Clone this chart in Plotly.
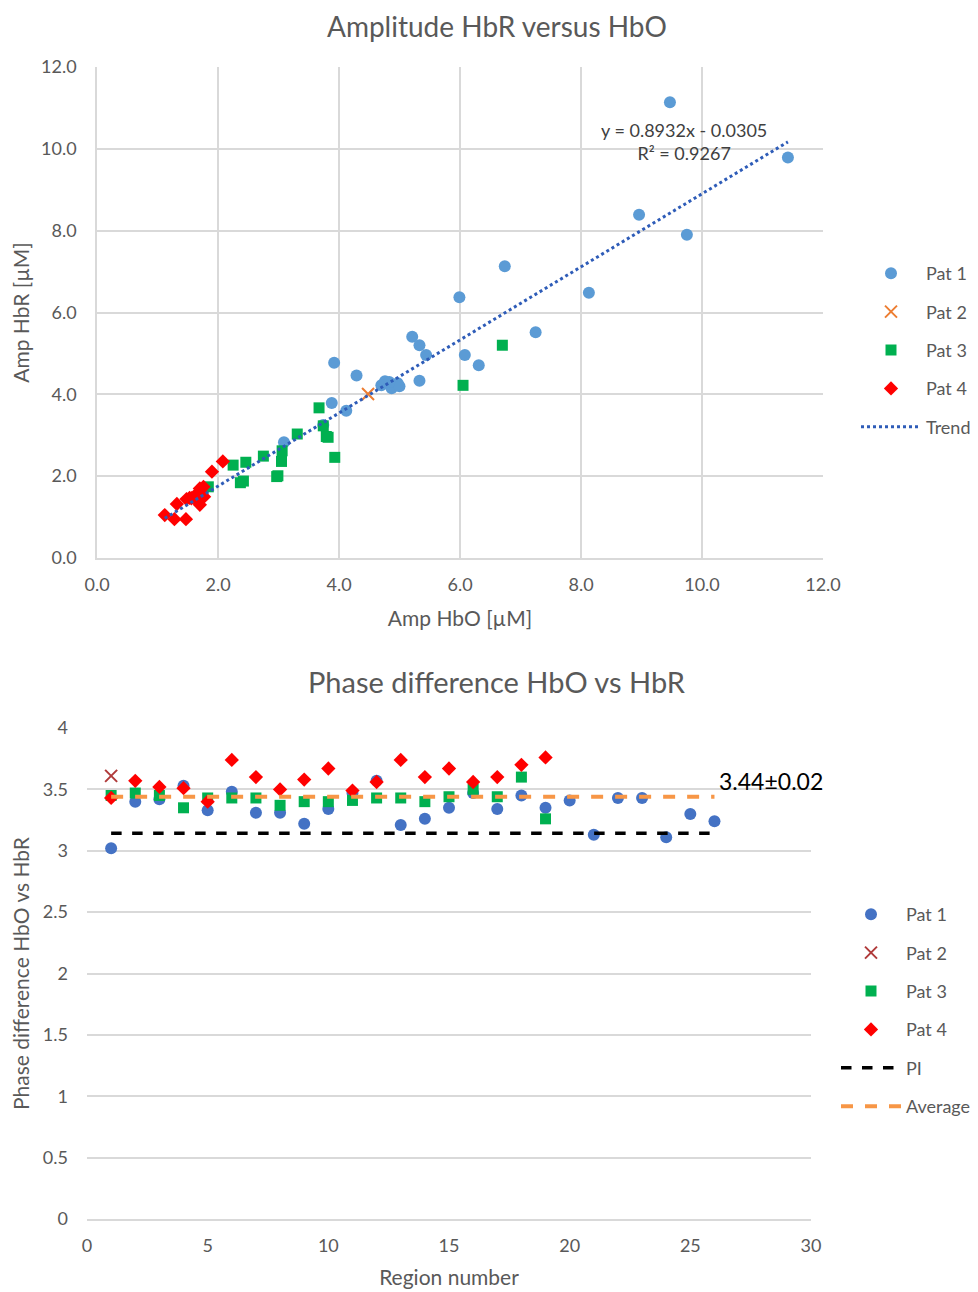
import plotly.graph_objects as go

# ---------------- Top chart data: Amplitude HbR vs HbO ----------------
p1_hbo = [9.47, 11.42, 8.96, 9.75, 6.74, 5.99, 8.13, 7.25, 5.21, 5.33, 5.44, 6.08, 6.31, 5.33,
          3.92, 4.29, 4.76, 4.70, 4.87, 4.97, 5.00, 4.83, 3.88, 4.12, 3.09, 3.74]
p1_hbr = [11.14, 9.79, 8.39, 7.90, 7.13, 6.37, 6.48, 5.52, 5.41, 5.20, 4.96, 4.96, 4.71, 4.33,
          4.77, 4.46, 4.32, 4.22, 4.15, 4.27, 4.20, 4.30, 3.79, 3.60, 2.83, 3.25]
p2_hbo = [4.48]
p2_hbr = [4.01]
p3_hbo = [6.70, 6.05, 3.67, 3.74, 3.79, 3.82, 3.93, 3.31, 3.06, 3.05, 2.75, 2.46, 2.25, 2.97, 2.99,
          2.37, 2.42, 1.84]
p3_hbr = [5.20, 4.22, 3.67, 3.23, 2.97, 2.95, 2.46, 3.03, 2.62, 2.36, 2.49, 2.34, 2.27, 1.99, 2.01,
          1.84, 1.88, 1.74]
p4_hbo = [2.08, 1.90, 1.12, 1.28, 1.47, 1.32, 1.48, 1.56, 1.62, 1.70, 1.76, 1.70, 1.67, 1.72, 1.65,
          1.53, 1.77]
p4_hbr = [2.36, 2.11, 1.05, 0.95, 0.95, 1.32, 1.44, 1.46, 1.50, 1.70, 1.74, 1.30, 1.38, 1.58, 1.57,
          1.47, 1.50]
trend_slope = 0.8932
trend_icept = -0.0305
trend_r2 = 0.9267
amp_ticks = [0, 2, 4, 6, 8, 10, 12]

# ---------------- Bottom chart data: phase difference ----------------
ph1_region = list(range(1, 27))
ph1_value = [3.02, 3.40, 3.42, 3.53, 3.33, 3.48, 3.31, 3.31, 3.22, 3.34, 3.47, 3.57, 3.21,
             3.26, 3.35, 3.47, 3.34, 3.45, 3.35, 3.41, 3.13, 3.43, 3.43, 3.11, 3.30, 3.24]
ph2_region = [1]
ph2_value = [3.61]
ph3_region = list(range(1, 20))
ph3_value = [3.45, 3.47, 3.45, 3.35, 3.43, 3.43, 3.43, 3.37, 3.40, 3.40, 3.41, 3.43, 3.43,
             3.40, 3.44, 3.50, 3.44, 3.60, 3.26]
ph4_region = list(range(1, 20))
ph4_value = [3.43, 3.57, 3.52, 3.51, 3.40, 3.74, 3.60, 3.50, 3.58, 3.67, 3.49, 3.56, 3.74,
             3.60, 3.67, 3.56, 3.60, 3.70, 3.76]
pi_value = 3.14159
avg_value = 3.44
avg_label = "3.44±0.02"
line_region = [1, 26]

FONT = "Lato, Carlito, Calibri, sans-serif"
GRID = "#d9d9d9"
TXT = "#595959"

fig = go.Figure()

# top traces
fig.add_trace(go.Scatter(x=p1_hbo, y=p1_hbr, mode="markers", name="Pat 1",
                         marker=dict(symbol="circle", size=12, color="#5b9bd5"),
                         xaxis="x", yaxis="y", legend="legend", legendgroup="a1"))
fig.add_trace(go.Scatter(x=p2_hbo, y=p2_hbr, mode="markers", name="Pat 2",
                         marker=dict(symbol="x-thin", size=12, color="#ed7d31",
                                     line=dict(width=2, color="#ed7d31")),
                         xaxis="x", yaxis="y", legend="legend", legendgroup="a2"))
fig.add_trace(go.Scatter(x=p3_hbo, y=p3_hbr, mode="markers", name="Pat 3",
                         marker=dict(symbol="square", size=11, color="#00b050"),
                         xaxis="x", yaxis="y", legend="legend", legendgroup="a3"))
fig.add_trace(go.Scatter(x=p4_hbo, y=p4_hbr, mode="markers", name="Pat 4",
                         marker=dict(symbol="diamond", size=11, color="#ff0000"),
                         xaxis="x", yaxis="y", legend="legend", legendgroup="a4"))
all_x = p1_hbo + p2_hbo + p3_hbo + p4_hbo
tx = [min(all_x), max(all_x)]
ty = [trend_slope * v + trend_icept for v in tx]
fig.add_trace(go.Scatter(x=tx, y=ty, mode="lines", name="Trend",
                         line=dict(color="#2e5cb8", width=3, dash="dot"),
                         xaxis="x", yaxis="y", legend="legend", legendgroup="a5"))

# bottom traces
fig.add_trace(go.Scatter(x=ph1_region, y=ph1_value, mode="markers", name="Pat 1",
                         marker=dict(symbol="circle", size=12, color="#4472c4"),
                         xaxis="x2", yaxis="y2", legend="legend2", legendgroup="b1"))
fig.add_trace(go.Scatter(x=ph2_region, y=ph2_value, mode="markers", name="Pat 2",
                         marker=dict(symbol="x-thin", size=12, color="#b03a3a",
                                     line=dict(width=2, color="#b03a3a")),
                         xaxis="x2", yaxis="y2", legend="legend2", legendgroup="b2"))
fig.add_trace(go.Scatter(x=ph3_region, y=ph3_value, mode="markers", name="Pat 3",
                         marker=dict(symbol="square", size=11, color="#00b050"),
                         xaxis="x2", yaxis="y2", legend="legend2", legendgroup="b3"))
fig.add_trace(go.Scatter(x=ph4_region, y=ph4_value, mode="markers", name="Pat 4",
                         marker=dict(symbol="diamond", size=11, color="#ff0000"),
                         xaxis="x2", yaxis="y2", legend="legend2", legendgroup="b4"))
fig.add_trace(go.Scatter(x=line_region, y=[pi_value] * 2, mode="lines", name="PI",
                         line=dict(color="#000000", width=3.5, dash="dash"),
                         xaxis="x2", yaxis="y2", legend="legend2", legendgroup="b5"))
fig.add_trace(go.Scatter(x=line_region, y=[avg_value] * 2, mode="lines", name="Average",
                         line=dict(color="#f79646", width=4, dash="dash"),
                         xaxis="x2", yaxis="y2", legend="legend2", legendgroup="b6"))

# the page body has an 8px margin, so the figure is drawn 8px in from the window edge
OFF = 8
W, H = 978 - OFF, 1292 - OFF

def fx(px):
    return (px - OFF) / W

def fy(py):
    return 1 - (py - OFF) / H

axis_common = dict(showline=True, linecolor=GRID, linewidth=1.5, zeroline=False,
                   tickfont=dict(family=FONT, size=18, color=TXT), ticks="", automargin=False)
title_font = dict(family=FONT, size=21, color=TXT)

fig.update_layout(
    width=W, height=H, margin=dict(l=0, r=0, t=0, b=0, autoexpand=False),
    paper_bgcolor="white", plot_bgcolor="white",
    font=dict(family=FONT, color=TXT),
    xaxis=dict(domain=[fx(97), fx(823)], range=[0, 12], tickvals=amp_ticks,
               tickformat=".1f", showgrid=True, gridcolor=GRID, gridwidth=1.5,
               ticklabelstandoff=10, anchor="y",
               title=dict(text="Amp HbO [µM]", font=title_font, standoff=17),
               **axis_common),
    yaxis=dict(domain=[fy(558), fy(67)], range=[0, 12], tickvals=amp_ticks,
               tickformat=".1f", showgrid=True, gridcolor=GRID, gridwidth=1.5,
               ticklabelstandoff=15, anchor="x",
               title=dict(text="Amp HbR [µM]", font=title_font, standoff=8),
               **axis_common),
    xaxis2=dict(domain=[fx(87), fx(811)], range=[0, 30], tickvals=[0, 5, 10, 15, 20, 25, 30],
                showgrid=False, ticklabelstandoff=10, anchor="y2",
                title=dict(text="Region number", font=title_font, standoff=15),
                **axis_common),
    yaxis2=dict(domain=[fy(1219), fy(728)], range=[0, 4],
                tickvals=[0, 0.5, 1, 1.5, 2, 2.5, 3, 3.5, 4],
                ticktext=["0", "0.5", "1", "1.5", "2", "2.5", "3", "3.5", "4"],
                showgrid=True, gridcolor=GRID, gridwidth=1.5, ticklabelstandoff=18, anchor="x2",
                title=dict(text="Phase difference HbO vs HbR", font=title_font, standoff=8),
                **{**axis_common, "showline": False}),
    legend=dict(x=fx(856), y=fy(255), xanchor="left", yanchor="top", itemwidth=60,
                font=dict(family=FONT, size=18, color=TXT), tracegroupgap=12,
                bgcolor="rgba(0,0,0,0)"),
    legend2=dict(x=fx(836), y=fy(896), xanchor="left", yanchor="top", itemwidth=60,
                 font=dict(family=FONT, size=18, color=TXT), tracegroupgap=12,
                 bgcolor="rgba(0,0,0,0)"),
    annotations=[
        dict(text="Amplitude HbR versus HbO", x=fx(497), y=1, xref="paper", yref="paper",
             xanchor="center", yanchor="top", borderpad=0,
             showarrow=False, font=dict(family=FONT, size=28, color=TXT)),
        dict(text="Phase difference HbO vs HbR", x=fx(497), y=fy(681), xref="paper", yref="paper",
             xanchor="center", yanchor="middle",
             showarrow=False, font=dict(family=FONT, size=29, color=TXT)),
        dict(text=f"y = {trend_slope}x - {abs(trend_icept)}<br>R² = {trend_r2}",
             x=fx(684), y=fy(142), xref="paper", yref="paper", showarrow=False,
             xanchor="center", yanchor="middle",
             align="center", font=dict(family=FONT, size=18, color="#404040")),
        dict(text=avg_label, x=26.1, y=avg_value, xref="x2", yref="y2", xanchor="left",
             yanchor="bottom", showarrow=False, yshift=0,
             font=dict(family=FONT, size=23, color="#000000")),
    ],
)

fig.write_html("out.html")
